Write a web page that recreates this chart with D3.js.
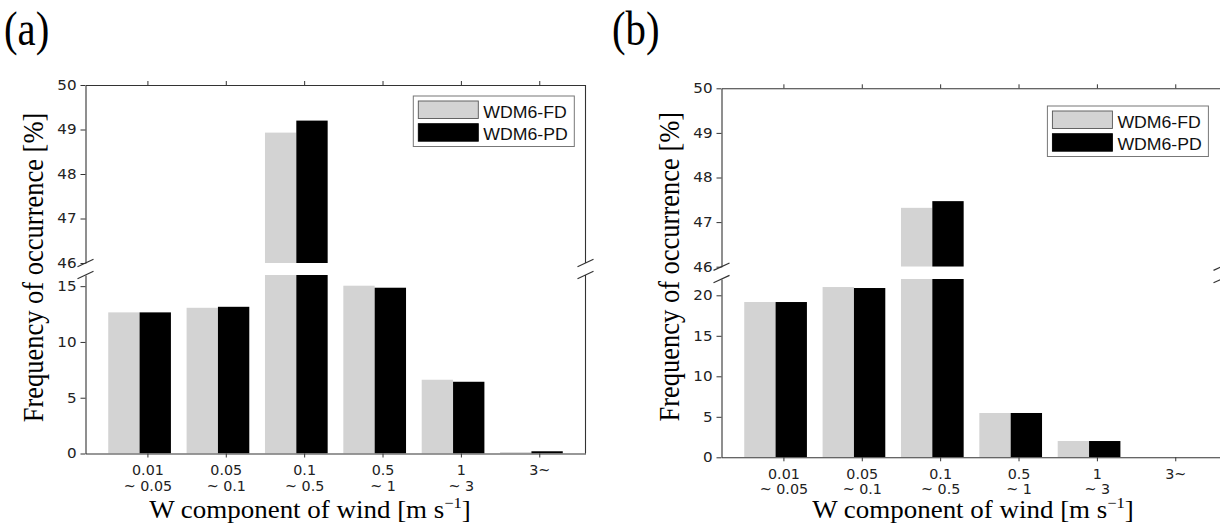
<!DOCTYPE html>
<html>
<head>
<meta charset="utf-8">
<script src="https://cdn.jsdelivr.net/npm/d3@7"></script>
<style>
  html, body { margin: 0; padding: 0; background: #fff; }
  svg { display: block; }
  .tl { font-family: "DejaVu Sans", sans-serif; }
</style>
</head>
<body>
<script>
// Wind-speed bins (two-line tick labels)
const binTop = ["0.01", "0.05", "0.1", "0.5", "1", "3~"];
const binBottom = ["~ 0.05", "~ 0.1", "~ 0.5", "~ 1", "~ 3", ""];

// Series names
const seriesNames = ["WDM6-FD", "WDM6-PD"];

// Frequency of occurrence [%], panel (a)
const fdA = [12.65, 13.06, 48.93, 15.04, 6.61, 0.12];
const pdA = [12.65, 13.15, 49.20, 14.86, 6.43, 0.20];

// Frequency of occurrence [%], panel (b)
const fdB = [19.17, 21.02, 47.32, 5.47, 2.01, 0.0];
const pdB = [19.17, 20.90, 47.47, 5.47, 2.01, 0.0];

// Axis ticks
const upperTicks = [46, 47, 48, 49, 50];
const lowerTicksA = [0, 5, 10, 15];
const lowerTicksB = [0, 5, 10, 15, 20];

const W = 1220, H = 528;
const svg = d3.select("body").append("svg")
  .attr("width", W).attr("height", H)
  .attr("viewBox", `0 0 ${W} ${H}`);

const AXIS = "#333";
const SX = 1.1;              // horizontal text stretch
const SERIF = "Liberation Serif, Times New Roman, serif";
const SANS_L = "Liberation Sans, Arial, sans-serif";
const FILLS = ["#d3d3d3", "#000000"];

function stretched(parent, x, y, sx, text, opts) {
  const t = parent.append("text")
    .attr("transform", `translate(${x},${y}) scale(${sx},1)` + (opts.rotate ? ` rotate(${opts.rotate})` : ""))
    .style("font-family", opts.family)
    .style("font-size", opts.size + "px")
    .attr("fill", opts.fill || "#000")
    .attr("text-anchor", opts.anchor || "start");
  if (typeof text === "string") t.text(text);
  else text(t);
  return t;
}

function panel(p, idx) {
  const g = svg.append("g");
  const x = d3.scaleLinear().domain([-0.79, 5.59]).range([p.left, p.right]);
  const yUp = d3.scaleLinear().domain([46, 50]).range([p.upBottom, p.upTop]);
  const yLo = d3.scaleLinear().domain([0, p.loMax]).range([p.loBottom, p.loTop]);

  // clip regions for the two halves of the broken axis
  const defs = g.append("defs");
  defs.append("clipPath").attr("id", `clipUp${idx}`).append("rect")
    .attr("x", p.left).attr("y", p.upTop).attr("width", p.right - p.left).attr("height", p.upBottom - p.upTop);
  defs.append("clipPath").attr("id", `clipLo${idx}`).append("rect")
    .attr("x", p.left).attr("y", p.loTop).attr("width", p.right - p.left).attr("height", p.loBottom - p.loTop);

  const series = [p.fd, p.pd];
  const offsets = [-0.5, -0.1];
  const bw = 0.4;

  [[yUp, 46, `clipUp${idx}`], [yLo, 0, `clipLo${idx}`]].forEach(([y, base, clip]) => {
    const bg = g.append("g").attr("clip-path", `url(#${clip})`);
    series.forEach((vals, s) => {
      bg.selectAll(null).data(vals).join("rect")
        .attr("x", (d, i) => x(i + offsets[s]))
        .attr("width", (d, i) => x(i + offsets[s] + bw) - x(i + offsets[s]))
        .attr("y", d => y(Math.max(d, base)))
        .attr("height", d => Math.max(0, y(base) - y(Math.max(d, base))))
        .attr("fill", FILLS[s]);
    });
  });

  const styleAxis = sel => {
    sel.attr("font-family", null).attr("font-size", null);
    sel.select(".domain").attr("stroke", AXIS).attr("stroke-width", 1.1);
    sel.selectAll(".tick line").attr("stroke", AXIS).attr("stroke-width", 1);
    sel.selectAll(".tick text").attr("class", "tl").attr("fill", "#222");
  };

  // upper half: left ticks, top ticks
  g.append("g").attr("transform", `translate(${p.left},0)`)
    .call(d3.axisLeft(yUp).tickValues(upperTicks).tickFormat(d3.format("d"))
      .tickSize(5).tickSizeOuter(0).tickPadding(3))
    .call(styleAxis)
    .call(s => s.selectAll(".tick text").style("font-size", "13.5px").attr("transform", `scale(1.12,1)`));
  g.append("g").attr("transform", `translate(0,${p.upTop})`)
    .call(d3.axisTop(x).tickValues(d3.range(binTop.length)).tickSize(4).tickSizeOuter(0).tickFormat(""))
    .call(styleAxis);

  // lower half: left ticks, bottom ticks with two-line labels
  g.append("g").attr("transform", `translate(${p.left},0)`)
    .call(d3.axisLeft(yLo).tickValues(p.loTicks).tickFormat(d3.format("d"))
      .tickSize(5).tickSizeOuter(0).tickPadding(3))
    .call(styleAxis)
    .call(s => s.selectAll(".tick text").style("font-size", "13.5px").attr("transform", `scale(1.12,1)`));
  const xb = g.append("g").attr("transform", `translate(0,${p.loBottom})`)
    .call(d3.axisBottom(x).tickValues(d3.range(binTop.length)).tickSize(4).tickSizeOuter(0).tickFormat(""))
    .call(styleAxis);
  xb.selectAll(".tick text").remove();
  xb.selectAll(".tick").each(function(i) {
    const t = d3.select(this).append("text")
      .attr("class", "tl")
      .attr("transform", `scale(1.06,1)`)
      .attr("text-anchor", "middle")
      .style("font-size", "13.5px").attr("fill", "#222");
    t.append("tspan").attr("x", 0).attr("y", 21.5).text(binTop[i]);
    if (binBottom[i]) t.append("tspan").attr("x", 0).attr("y", 37.2).text(binBottom[i]);
  });

  // right spines
  g.append("line").attr("x1", p.right).attr("x2", p.right).attr("y1", p.upTop).attr("y2", p.upBottom)
    .attr("stroke", AXIS).attr("stroke-width", 1.1);
  g.append("line").attr("x1", p.right).attr("x2", p.right).attr("y1", p.loTop).attr("y2", p.loBottom)
    .attr("stroke", AXIS).attr("stroke-width", 1.1);

  // break marks
  [p.left, p.right].forEach(bx => {
    [p.upBottom, p.loTop].forEach(by => {
      g.append("line").attr("x1", bx - 8).attr("y1", by + 3.7).attr("x2", bx + 8).attr("y2", by - 3.7)
        .attr("stroke", AXIS).attr("stroke-width", 1.2);
    });
  });

  // legend
  const lg = g.append("g").attr("transform", `translate(${p.legX},${p.legY})`);
  lg.append("rect").attr("x", 0).attr("y", 0).attr("width", 161).attr("height", 50.5)
    .attr("fill", "#fff").attr("stroke", "#777").attr("stroke-width", 1);
  seriesNames.forEach((name, s) => {
    lg.append("rect").attr("x", 5).attr("y", 5 + s * 22.7).attr("width", 60).attr("height", 17.5)
      .attr("fill", FILLS[s]).attr("stroke", s === 0 ? "#555" : "#000").attr("stroke-width", 0.9);
    stretched(lg, 70, 21.7 + s * 22, 1.04, name, { family: SANS_L, size: 17, fill: "#111" });
  });

  // axis titles
  stretched(svg, p.xTitleX, 518, SX, t => {
    t.append("tspan").text("W component of wind [m s");
    t.append("tspan").style("font-size", "15px").attr("dy", -10).text("−1");
    t.append("tspan").attr("dy", 10).text("]");
  }, { family: SERIF, size: 24.5, anchor: "middle" });
  stretched(svg, p.yTitleX, p.yTitleY, 1.12, "Frequency of occurrence [%]",
    { family: SERIF, size: 26.5, anchor: "middle", rotate: -90 });

  // panel letter
  stretched(svg, p.letterX, 45, 0.85, p.letter, { family: SERIF, size: 48 });
}

panel({
  letter: "(a)", letterX: 4,
  left: 85.5, right: 585.5,
  upTop: 85, upBottom: 263, loTop: 275, loBottom: 453.5,
  loMax: 16, loTicks: lowerTicksA,
  fd: fdA, pd: pdA,
  legX: 413.3, legY: 96,
  xTitleX: 310, yTitleX: 43.3, yTitleY: 267.5
}, 0);

panel({
  letter: "(b)", letterX: 612,
  left: 721.5, right: 1221.5,
  upTop: 88.3, upBottom: 266.7, loTop: 279.1, loBottom: 457.3,
  loMax: 22, loTicks: lowerTicksB,
  fd: fdB, pd: pdB,
  legX: 1047.4, legY: 106,
  xTitleX: 973, yTitleX: 679.3, yTitleY: 266.7
}, 1);
</script>
</body>
</html>
